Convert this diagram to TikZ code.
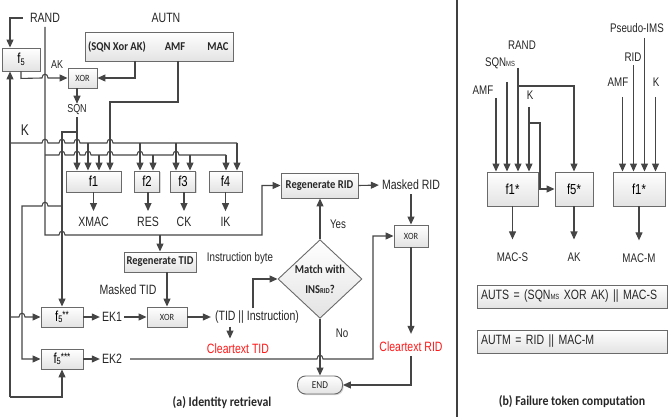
\documentclass[tikz,border=0pt]{standalone}
\usepackage{fontspec}
\setmainfont[FakeStretch=0.78]{Liberation Sans}
\newfontfamily\calfont[FakeStretch=0.88]{Carlito}
\usetikzlibrary{arrows.meta,shapes.geometric,shadows}
\definecolor{lnc}{HTML}{454545}
\definecolor{bdc}{HTML}{6A6A6A}
\definecolor{txtred}{HTML}{FF1A1A}
\newcommand{\lowsub}[1]{\raisebox{-1.5pt}{\fontsize{9.5}{9.5}\selectfont #1}}
\newcommand{\tinysub}[1]{{\fontsize{7.5}{7.5}\selectfont #1}}
\newcommand{\hop}[2]{-- (#1-3,#2) .. controls (#1-3,#2-5) and (#1+3,#2-5) .. (#1+3,#2)}
\newcommand{\flab}{\fontsize{14.5}{15}\selectfont}
\newcommand{\bfnt}{\calfont\bfseries\fontsize{12}{13}\selectfont}
\begin{document}
\begin{tikzpicture}[x=1pt,y=-1pt,
  ln/.style={draw=lnc,line width=1.1pt},
  arr/.style={ln,-{Triangle[length=8pt,width=7pt]}},
  rarr/.style={ln,{Triangle[length=8pt,width=7pt]}-},
  box/.style={draw=bdc,line width=0.9pt,top color=white,bottom color=gray!22,inner sep=0pt,
    drop shadow={shadow xshift=1.2pt,shadow yshift=-1.2pt,opacity=0.3,fill=gray}},
  lbl/.style={inner sep=0pt,text=black!85,font=\fontsize{13.5}{14}\selectfont},
  slbl/.style={inner sep=0pt,text=black!85,font=\fontsize{12.5}{13}\selectfont},
  blbl/.style={inner sep=0pt,text=black!85,font=\bfnt},
  xorbox/.style={box,font=\calfont\fontsize{9.5}{9.5}\selectfont,text=black!85},
  redl/.style={inner sep=0pt,text=txtred,font=\fontsize{13.5}{14}\selectfont},
  captxt/.style={inner sep=0pt,text=black!85,font=\calfont\bfseries\fontsize{13.5}{15}\selectfont}]
\useasboundingbox (0,0) rectangle (670,417);

% ---------------- panel (a) ----------------
\node[lbl] (rand) at (45,18) {RAND};
\node[lbl] (autnT) at (166,18) {AUTN};
\node[box,minimum width=148pt,minimum height=29pt] (autn) at (159,46.5) {};
\node[blbl] (sqnxak) at (117,47) {(SQN Xor AK)};
\node[blbl] (amfA) at (175,47) {AMF};
\node[blbl] (mac) at (218,47) {MAC};
\coordinate (autnS1) at (135,61);
\coordinate (autnS2) at (178,61);

\node[box,minimum width=38pt,minimum height=23pt] (f5) at (21,59.5) {\flab f\lowsub{5}};
\node[xorbox,minimum width=29pt,minimum height=20pt] (xorA) at (82.5,78) {XOR};
\node[slbl,font=\fontsize{11.5}{12}\selectfont] (ak) at (57,65) {AK};
\node[slbl,font=\fontsize{11.5}{12}\selectfont] (sqn) at (77,110) {SQN};
\node[lbl,font=\fontsize{15.5}{16}\selectfont] (klab) at (25,130) {K};

\node[box,minimum width=55pt,minimum height=21pt] (f1) at (93.5,181.5) {\flab f1};
\node[box,minimum width=25pt,minimum height=21pt] (f2) at (147,181.5) {\flab f2};
\node[box,minimum width=25pt,minimum height=21pt] (f3) at (183,181.5) {\flab f3};
\node[box,minimum width=33pt,minimum height=21pt] (f4) at (225.5,181.5) {\flab f4};
\node[lbl] (xmac) at (93.5,222) {XMAC};
\node[lbl] (res) at (148,222) {RES};
\node[lbl] (ck) at (184,222) {CK};
\node[lbl] (ik) at (225.5,222) {IK};

\node[box,blbl,minimum width=72pt,minimum height=20pt] (regtid) at (160,262) {Regenerate TID};
\node[lbl] (maskedtid) at (128,290) {Masked TID};
\node[box,minimum width=42pt,minimum height=20pt] (f5ss) at (62,317) {\flab f\lowsub{5}\raisebox{3pt}{\fontsize{10.5}{10}\selectfont **}};
\node[box,minimum width=42pt,minimum height=20pt] (f5sss) at (62,359) {\flab f\lowsub{5}\raisebox{3pt}{\fontsize{10.5}{10}\selectfont ***}};
\node[lbl] (ek1) at (112,317) {EK1};
\node[lbl] (ek2) at (112,359) {EK2};
\node[xorbox,minimum width=40pt,minimum height=20pt] (xorB) at (167,317) {XOR};
\node[lbl] (tidins) at (257,317) {(TID || Instruction)};
\node[redl] (cleartid) at (238,349) {Cleartext TID};
\node[slbl] (instbyte) at (240,258) {Instruction byte};

\node[diamond,draw=bdc,line width=0.9pt,top color=white,bottom color=gray!22,
  minimum width=84pt,minimum height=74pt,inner sep=0pt,align=center,
  font=\calfont\bfseries\fontsize{12}{20}\selectfont,text=black!85] (match) at (320,279)
  {Match with\\INS\tinysub{RID}?};
\node[slbl] (yes) at (338,224) {Yes};
\node[slbl] (no) at (342,333) {No};
\node[box,blbl,minimum width=77pt,minimum height=25pt] (regrid) at (319.5,185.5) {Regenerate RID};
\node[lbl] (maskedrid) at (411,185) {Masked RID};
\node[xorbox,minimum width=34pt,minimum height=22pt] (xorC) at (411,236) {XOR};
\node[redl] (clearrid) at (411,347) {Cleartext RID};
\node[box,rounded corners=8pt,minimum width=45pt,minimum height=18pt,
  font=\calfont\fontsize{10.5}{10}\selectfont,text=black!85] (endn) at (320,385) {END};
\node[captxt] (capA) at (222,403) {(a) Identity retrieval};

% connectors (a)
\draw[arr] ([xshift=-7pt]rand.west) -| ([xshift=-11pt]f5.north);
\draw[arr] ([yshift=-4pt]rand.south) -- (45,235) \hop{62}{235} -- (262,235) |- (regrid.west);
\draw[arr] (160,235) -- (regtid.north);
% RAND bus to f-boxes
\draw[ln] (45,155) \hop{62}{155} \hop{77}{155} \hop{88}{155} -- (99,155) \hop{110}{155} \hop{140}{155}
  -- (153,155) \hop{176}{155} -- (190,155) -- (226,155);
% K bus
\draw[ln] (10,143) \hop{45}{143} \hop{62}{143} \hop{77}{143} -- (88,143) \hop{110}{143} -- (140,143) -- (176,143) -- (237,143);
\draw[arr] (10,397) -- ([xshift=-11pt]f5.south);
\draw[arr] (10,397) -| (f5sss.south);
\draw[arr] (10,317) \hop{22}{317} -- (f5ss.west);
% f5 -> XOR, AUTN -> XOR
\draw[arr] (f5.south) -- ++(0,7) \hop{45}{78} -- (xorA.west);
\draw[arr] (autnS1) |- (xorA.east);
\draw[arr,shorten >=1pt] (xorA.south -| sqn.north) -- (sqn.north);
% SQN
\draw[arr] ([yshift=-2pt]sqn.south) -- ([xshift=-16.5pt]f1.north);
\draw[arr] (77,132) -- (62,132) -- (f5ss.north);
\draw[rarr] (f5sss.west) -| (22,206) \hop{45}{206} -- (62,206);
% AMF
\draw[arr] (autnS2) -- (178,102) -| ([xshift=16.5pt]f1.north);
% f-box inputs
\draw[arr] (88,143) -- ([xshift=-5.5pt]f1.north);
\draw[arr] (99,155) -- ([xshift=5.5pt]f1.north);
\draw[arr] (140,143) -- ([xshift=-7pt]f2.north);
\draw[arr] (153,155) -- ([xshift=6pt]f2.north);
\draw[arr] (176,143) -- ([xshift=-7pt]f3.north);
\draw[arr] (190,155) -- ([xshift=7pt]f3.north);
\draw[arr] (226,155) -- ([xshift=0.5pt]f4.north);
\draw[arr] (237,143) -- ([xshift=11.5pt]f4.north);
% f-box outputs
\draw[arr,shorten >=6pt] (f1.south) -- (xmac.north);
\draw[arr,shorten >=6pt] (f2.south -| res.north) -- (res.north);
\draw[arr,shorten >=6pt] (f3.south -| ck.north) -- (ck.north);
\draw[arr,shorten >=6pt] (f4.south) -- (ik.north);
% TID chain
\draw[arr] (regtid.south -| xorB.north) -- (xorB.north);
\draw[arr,shorten >=2pt] (f5ss.east) -- (ek1.west);
\draw[arr] ([xshift=2pt]ek1.east) -- (xorB.west);
\draw[arr,shorten >=4pt] (xorB.east) -- (tidins.west);
\draw[arr,shorten >=2pt] (f5sss.east) -- (ek2.west);
\draw[arr] ([xshift=-27pt,yshift=-3pt]tidins.south) -- ++(0,12);
\draw[arr] ([xshift=-4pt,yshift=2pt]tidins.north) |- (match.west);
\draw[arr] (match.north) -- (match.north |- regrid.south);
\draw[arr,shorten >=3pt] (regrid.east) -- (maskedrid.west);
\draw[arr] ([yshift=-4pt]maskedrid.south) -- (xorC.north);
\draw[arr] ([xshift=8pt]ek2.east) \hop{320}{359} -- (373,359) |- (xorC.west);
\draw[arr,shorten >=8pt] (xorC.south) -- (clearrid.north);
\draw[arr] ([yshift=-4pt]clearrid.south) |- (endn.east);
\draw[arr] (match.south) -- (endn.north);

% separator
\coordinate (sepT) at (457,0);
\coordinate (sepB) at (457,417);
\draw[line width=2.6pt,draw=black!75] (sepT) -- (sepB);

% ---------------- panel (b) ----------------
\node[slbl] (pseudo) at (637,28) {Pseudo-IMS};
\node[slbl] (rid) at (633,57) {RID};
\node[slbl] (amfR2) at (618,82) {AMF};
\node[slbl] (kR2) at (656,82) {K};
\node[slbl] (randR) at (522,45) {RAND};
\node[slbl] (sqnms) at (500,63) {SQN\tinysub{MS}};
\node[slbl] (amfR1) at (483,90) {AMF};
\node[slbl] (kR1) at (530,95) {K};

\node[box,minimum width=51pt,minimum height=34pt] (f1s1) at (512.5,189) {\flab f1*};
\node[box,minimum width=38pt,minimum height=34pt] (f5s) at (574,189) {\flab f5*};
\node[box,minimum width=52pt,minimum height=34pt] (f1s2) at (639,189) {\flab f1*};

\draw[arr] (496,98) -- ([xshift=-16.5pt]f1s1.north);
\draw[arr] (507,82) -- ([xshift=-5.5pt]f1s1.north);
\draw[arr] (518,68) -- ([xshift=5.5pt]f1s1.north);
\draw[arr] (529,107) -- ([xshift=16.5pt]f1s1.north);
\draw[arr] (518,86) -| (f5s.north);
\draw[arr] (529,123) -- (540,123) |- (f5s.west);
\draw[arr] (622.5,97) -- ([xshift=-16.5pt]f1s2.north);
\draw[arr] (633.5,65) -- ([xshift=-5.5pt]f1s2.north);
\draw[arr] (644.5,38) -- ([xshift=5.5pt]f1s2.north);
\draw[arr] (655.5,97) -- ([xshift=16.5pt]f1s2.north);

\node[slbl] (macs) at (512.5,257) {MAC-S};
\node[slbl] (akR) at (574,257) {AK};
\node[slbl] (macm) at (639,258) {MAC-M};
\draw[arr,shorten >=13pt] (f1s1.south) -- (macs.north);
\draw[arr,shorten >=13pt] (f5s.south) -- (akR.north);
\draw[arr,shorten >=13pt] (f1s2.south) -- (macm.north);

\node[box,minimum width=190pt,minimum height=23pt,inner xsep=4pt,text width=182pt,align=left,
  font=\fontsize{13.5}{14}\selectfont,text=black!85] (auts) at (572,296.5)
  {AUTS = (SQN\tinysub{MS} XOR AK) || MAC-S};
\node[box,minimum width=190pt,minimum height=23pt,inner xsep=4pt,text width=182pt,align=left,
  font=\fontsize{13.5}{14}\selectfont,text=black!85] (autm) at (572,341.5)
  {AUTM = RID || MAC-M};
\node[captxt] (capB) at (572,402) {(b) Failure token computation};
\end{tikzpicture}
\end{document}
